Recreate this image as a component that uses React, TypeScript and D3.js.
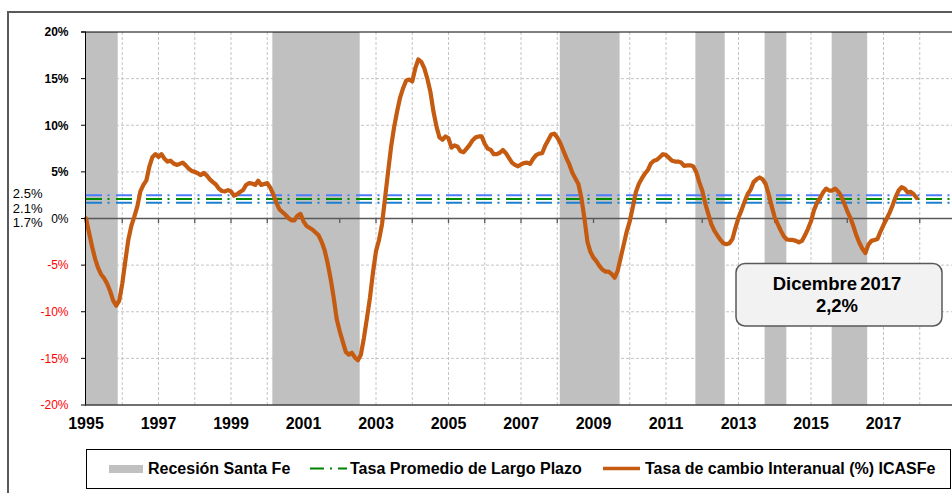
import * as d3 from 'd3'

const W = 952
const H = 493
const PLOT = { left: 86, right: 956, top: 32, bottom: 405 }

const START_YEAR = 1995
const yTicks = [20, 15, 10, 5, 0, -5, -10, -15, -20]
const yearLabels = [1995, 1997, 1999, 2001, 2003, 2005, 2007, 2009, 2011, 2013, 2015, 2017]
const gridYears = [1996, 1997, 1998, 1999, 2000, 2001, 2002, 2003, 2004, 2005, 2006, 2007, 2008, 2009, 2010, 2011, 2012, 2013, 2014, 2015, 2016, 2017, 2018]

// Recesión Santa Fe (decimal years)
const recessionStart = [1995.0, 2000.14, 2008.07, 2011.81, 2013.72, 2015.57]
const recessionEnd = [1995.875, 2002.55, 2009.72, 2012.62, 2014.32, 2016.55]

// Tasa promedio de largo plazo
const refRates = [2.5, 2.1, 1.7]
const refLabels = ['2.5%', '2.1%', '1.7%']
const refColors = ['#4d7bff', '#008a00', '#1e7fd0']

// Tasa de cambio interanual (%) ICASFe, monthly Jan 1995 .. Dec 2017
const icasfe = [
  0, -1.5, -3.0, -4.3, -5.3, -6.0, -6.4, -7.0, -7.8, -8.8, -9.35, -8.8, // 1995
  -7.0, -4.6, -2.3, -0.8, 0.2, 1.3, 2.9, 3.6, 4.1, 5.6, 6.6, 6.9, // 1996
  6.6, 6.9, 6.4, 6.1, 6.2, 5.9, 5.75, 5.85, 6.0, 5.7, 5.35, 5.1, // 1997
  5.0, 4.85, 4.65, 4.9, 4.6, 4.2, 3.9, 3.65, 3.2, 2.95, 2.9, 3.05, // 1998
  2.9, 2.45, 2.6, 2.85, 3.05, 3.6, 3.8, 3.75, 3.6, 4.05, 3.6, 3.7, // 1999
  3.8, 3.3, 2.6, 1.7, 1.0, 0.7, 0.4, 0.05, -0.2, -0.2, 0.3, 0.5, // 2000
  -0.3, -0.8, -1.0, -1.2, -1.5, -1.8, -2.5, -3.4, -4.8, -6.5, -8.5, -10.8, // 2001
  -12.1, -13.2, -14.3, -14.6, -14.4, -14.9, -15.2, -14.6, -12.8, -10.7, -8.5, -5.8, // 2002
  -3.5, -2.3, -0.6, 2.2, 5.0, 7.7, 9.8, 11.5, 13.0, 14.0, 14.8, 14.9, // 2003
  14.7, 16.1, 17.05, 16.8, 16.1, 15.0, 13.6, 11.5, 9.9, 8.7, 8.45, 8.8, // 2004
  8.6, 7.6, 7.85, 7.7, 7.2, 7.1, 7.5, 7.9, 8.4, 8.7, 8.8, 8.8, // 2005
  8.0, 7.5, 7.35, 6.9, 6.9, 7.05, 7.35, 7.0, 6.5, 6.0, 5.75, 5.6, // 2006
  5.8, 5.95, 6.0, 5.85, 6.4, 6.8, 6.95, 7.0, 7.8, 8.4, 9.0, 9.1, // 2007
  8.7, 8.1, 7.3, 6.5, 5.8, 4.9, 4.3, 3.7, 2.2, 0.0, -2.5, -3.6, // 2008
  -4.2, -4.6, -5.1, -5.5, -5.7, -5.7, -5.95, -6.35, -5.6, -4.2, -2.8, -1.4, // 2009
  -0.3, 1.2, 2.8, 3.7, 4.3, 4.8, 5.2, 5.9, 6.2, 6.3, 6.6, 6.9, // 2010
  6.8, 6.5, 6.2, 6.1, 6.1, 6.0, 5.65, 5.7, 5.7, 5.6, 5.0, 3.9, // 2011
  3.0, 1.6, 0.5, -0.6, -1.3, -1.8, -2.3, -2.65, -2.75, -2.65, -2.2, -1.0, // 2012
  0.1, 0.9, 1.8, 2.6, 3.1, 3.9, 4.2, 4.4, 4.2, 3.7, 2.6, 1.3, // 2013
  0.1, -0.6, -1.3, -1.9, -2.25, -2.3, -2.3, -2.4, -2.55, -2.4, -1.8, -1.1, // 2014
  -0.3, 0.9, 1.7, 2.2, 2.8, 3.2, 3.0, 3.0, 3.2, 2.9, 2.4, 1.6, // 2015
  0.8, 0.1, -0.8, -1.8, -2.6, -3.25, -3.7, -2.8, -2.4, -2.3, -2.2, -1.4, // 2016
  -0.7, -0.05, 0.6, 1.4, 2.3, 3.0, 3.35, 3.2, 2.8, 2.85, 2.6, 2.2, // 2017
]

const ORANGE = '#c55a11'
const BAND = '#c0c0c0'
const GRID = '#c4c4c4'
const FONT = '"Liberation Sans", Arial, sans-serif'

export default function App() {
  const x = d3.scaleLinear().domain([1995, 2019]).range([PLOT.left, PLOT.right])
  const y = d3.scaleLinear().domain([-20, 20]).range([PLOT.bottom, PLOT.top])

  const line = d3.line<number>()
    .x((_, i) => x(START_YEAR + i / 12))
    .y(d => y(d))

  const y0 = y(0)

  return (
    <div style={{ position: 'absolute', left: 0, top: 0 }}>
      <svg width={W} height={H} style={{ display: 'block', background: '#fff', fontFamily: FONT }}>
        {/* outer frame */}
        <rect x={8} y={12} width={970} height={500} fill="#fff" stroke="#595959" strokeWidth={2} />

        {/* grid */}
        {gridYears.map(yr => (
          <line key={'gx' + yr} x1={x(yr)} x2={x(yr)} y1={PLOT.top} y2={PLOT.bottom}
            stroke={GRID} strokeDasharray="3,2" strokeWidth={1} />
        ))}
        {yTicks.filter(t => t !== 0 && Math.abs(t) !== 20).map(t => (
          <line key={'gy' + t} x1={PLOT.left} x2={PLOT.right} y1={y(t)} y2={y(t)}
            stroke={GRID} strokeDasharray="3,2" strokeWidth={1} />
        ))}

        {/* recession bands */}
        {recessionStart.map((s, i) => (
          <rect key={'b' + i} x={x(s)} y={PLOT.top} width={x(recessionEnd[i]) - x(s)}
            height={PLOT.bottom - PLOT.top} fill={BAND} />
        ))}

        {/* annotation box */}
        <rect x={736} y={263.5} width={206} height={62.5} rx={9} fill="#f2f2f2" stroke="#595959" strokeWidth={1.5} />
        <text x={837} y={290} textAnchor="middle" fontSize={18.5} fontWeight="bold" fill="#000" wordSpacing={-2}>Dicembre 2017</text>
        <text x={837} y={312} textAnchor="middle" fontSize={18.5} fontWeight="bold" fill="#000">2,2%</text>

        {/* zero line + year ticks */}
        <line x1={PLOT.left} x2={PLOT.right} y1={y0} y2={y0} stroke="#595959" strokeWidth={1.5} />
        {gridYears.map(yr => (
          <line key={'t' + yr} x1={x(yr)} x2={x(yr)} y1={y0} y2={y0 + 4.5} stroke="#595959" strokeWidth={1.3} />
        ))}

        {/* long-term average rates */}
        {refRates.map((r, i) => (
          <line key={'r' + i} x1={PLOT.left} x2={PLOT.right} y1={y(r)} y2={y(r)}
            stroke={refColors[i]} strokeWidth={2} strokeDasharray="16,5.5,2,6.5" />
        ))}

        {/* ICASFe */}
        <path d={line(icasfe) ?? ''} fill="none" stroke={ORANGE} strokeWidth={4.2}
          strokeLinejoin="round" strokeLinecap="round" />

        {/* plot frame */}
        <line x1={81} x2={PLOT.right} y1={PLOT.top} y2={PLOT.top} stroke="#000" strokeWidth={1} />
        <line x1={PLOT.left - 0.5} x2={PLOT.left - 0.5} y1={PLOT.top} y2={PLOT.bottom} stroke="#000" strokeWidth={1} />
        <line x1={PLOT.left - 1} x2={PLOT.right} y1={PLOT.bottom} y2={PLOT.bottom} stroke="#404040" strokeWidth={1.5} />

        {/* y axis */}
        {yTicks.map(t => (
          <g key={'yt' + t}>
            <line x1={81} x2={PLOT.left} y1={y(t)} y2={y(t)} stroke="#000" strokeWidth={1} />
            <text x={68.5} y={y(t)} dy="0.36em" textAnchor="end" fontSize={12} fontFamily={FONT}
              fontWeight={t > 0 ? 'bold' : 'normal'} fill={t < 0 ? '#ff0000' : '#000'}>
              {t}%
            </text>
          </g>
        ))}
        {refRates.map((r, i) => (
          <text key={'rl' + i} x={42.5} y={[198, 213, 227][i]} textAnchor="end" fontSize={13}
            fontFamily={FONT} fill="#000">
            {refLabels[i]}
          </text>
        ))}

        {/* x axis labels */}
        {yearLabels.map(yr => (
          <text key={'xl' + yr} x={x(yr)} y={429} textAnchor="middle" fontSize={16} fontWeight="bold" fill="#000">
            {yr}
          </text>
        ))}

        {/* legend */}
        <rect x={86.5} y={449.5} width={864} height={39} fill="#fff" stroke="#000" strokeWidth={1} />
        <rect x={109} y={465} width={34} height={8} fill={BAND} />
        <text x={148} y={474} fontSize={16} fontWeight="bold" fill="#000">Recesión Santa Fe</text>
        <line x1={310} x2={347} y1={468.5} y2={468.5} stroke="#008000" strokeWidth={2} strokeDasharray="14,6,2,6" />
        <text x={350} y={474} fontSize={16} fontWeight="bold" fill="#000">Tasa Promedio de Largo Plazo</text>
        <line x1={603} x2={640} y1={468.5} y2={468.5} stroke={ORANGE} strokeWidth={3.5} />
        <text x={645} y={474} fontSize={16} fontWeight="bold" fill="#000">Tasa de cambio Interanual (%) ICASFe</text>
      </svg>
    </div>
  )
}
